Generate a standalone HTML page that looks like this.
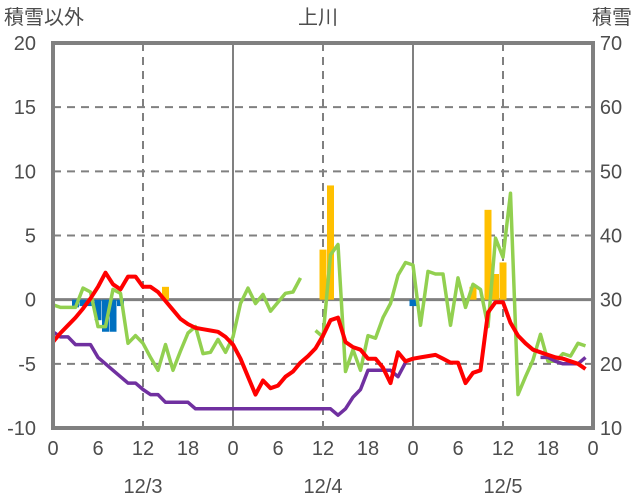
<!DOCTYPE html>
<html><head><meta charset="utf-8"><style>
body{margin:0;background:#fff;}
svg{display:block;font-family:"Liberation Sans","Noto Sans CJK JP",sans-serif;}
</style></head><body>
<svg id="chart" width="636" height="501"></svg>
<script>
const hours = Array.from({length:72},(_,i)=>i);
const xTickLabels = ["0","6","12","18","0","6","12","18","0","6","12","18","0"];
const dateLabels = ["12/3","12/4","12/5"];
const leftTicks = [20,15,10,5,0,-5,-10];
const rightTicks = [70,60,50,40,30,20,10];
const redTemp = [-3.3,-2.6,-2.0,-1.4,-0.7,0.1,1.0,2.1,1.2,0.8,1.8,1.8,1.0,1.0,0.6,-0.1,-0.8,-1.5,-1.9,-2.2,-2.3,-2.4,-2.5,-2.9,
-3.5,-4.6,-6.0,-7.4,-6.3,-6.9,-6.7,-6.0,-5.6,-4.9,-4.4,-3.8,-2.8,-1.6,-1.4,-3.3,-3.7,-3.9,-4.6,-4.6,-5.3,-6.5,-4.1,-4.8,
-4.6,-4.5,-4.4,-4.3,-4.6,-4.9,-4.9,-6.5,-5.7,-5.5,-1.0,-0.2,-0.2,-1.8,-2.8,-3.4,-3.9,-4.1,-4.3,-4.5,-4.6,-4.8,-5.0,-5.4];
const greenSeries = [-0.4,-0.6,-0.6,-0.6,0.9,0.6,-2.1,-2.1,0.8,0.5,-3.4,-2.8,-3.4,-4.5,-5.5,-3.5,-5.5,-4.0,-2.6,-2.1,-4.2,-4.1,-3.1,-4.1,
-2.9,-0.3,0.9,-0.3,0.4,-0.9,-0.2,0.5,0.6,1.7,null,-2.4,-2.9,3.5,4.3,-5.6,-3.9,-5.5,-2.8,-3.0,-1.4,-0.3,1.9,2.9,
2.7,-2.0,2.2,2.0,2.0,-2.0,1.7,-0.6,1.2,0.8,-2.1,4.8,3.3,8.3,-7.4,-6.0,-4.7,-2.7,-4.8,-4.8,-4.2,-4.4,-3.4,-3.6];
const purpleSnow = [-2.5,-2.9,-2.9,-3.5,-3.5,-3.5,-4.5,-5.0,-5.5,-6.0,-6.5,-6.5,-7.0,-7.4,-7.4,-8.0,-8.0,-8.0,-8.0,-8.5,-8.5,-8.5,-8.5,-8.5,
-8.5,-8.5,-8.5,-8.5,-8.5,-8.5,-8.5,-8.5,-8.5,-8.5,-8.5,-8.5,-8.5,-8.5,-9.0,-8.5,-7.6,-7.0,-5.5,-5.5,-5.5,-5.5,-6.0,-4.9,
null,null,null,null,null,null,null,null,null,null,null,null,null,null,null,null,null,-4.5,-4.5,-4.8,-5.0,-5.0,-5.0,-4.5];
const barHours = [3,4,5,6,7,8,9,15,36,37,48,56,58,59,60];
const barValues = [-0.6,-0.5,-0.5,-1.6,-2.5,-2.5,-0.5,1.0,3.9,8.9,-0.5,1.0,7.0,2.0,2.9];

const svg=document.getElementById('chart');
const NS='http://www.w3.org/2000/svg';
const X0=53,X1=593,YT=43,YB=428;
const xs=h=>X0+h*7.5;
const ys=v=>YT+(20-v)*(YB-YT)/30;
function mk(tag,attrs,parent){const e=document.createElementNS(NS,tag);for(const k in attrs)e.setAttribute(k,attrs[k]);(parent||svg).appendChild(e);return e;}
const grid=mk('g',{});


[15,10,5,-5].forEach(v=>{const l=mk('line',{x1:X0,x2:X1,y1:ys(v),y2:ys(v),stroke:'#808080','stroke-width':2,'stroke-dasharray':'8,6'},grid);

});
[12,36,60].forEach(h=>{const l=mk('line',{x1:xs(h),x2:xs(h),y1:YT,y2:YB,stroke:'#808080','stroke-width':2,'stroke-dasharray':'8,6'},grid);

});
[24,48].forEach(h=>{const l=mk('line',{x1:xs(h),x2:xs(h),y1:YT,y2:YB,stroke:'#808080','stroke-width':2},grid);

});
const zl=mk('line',{x1:X0,x2:X1,y1:ys(0),y2:ys(0),stroke:'#808080','stroke-width':3});


barHours.forEach((h,i)=>{const v=barValues[i];const y0=ys(0),y1=ys(v);
const r=mk('rect',{x:xs(h)-3.5,y:Math.min(y0,y1),width:7,height:Math.abs(y1-y0),fill:v>=0?'#ffc000':'#0070c0'});

});
function line(data,color,name){let d='',pen=false;data.forEach((v,i)=>{if(v===null){pen=false;return;}d+=(pen?'L':'M')+xs(hours[i]).toFixed(1)+','+ys(v).toFixed(1);pen=true;});
const p=mk('path',{d:d,fill:'none',stroke:color,'stroke-width':name==='temperature-line'?4:3.5,'stroke-linejoin':'round'});

}
line(greenSeries,'#92d050','green-series-line');
line(purpleSnow,'#7030a0','snow-depth-line');
line(redTemp,'#ff0000','temperature-line');
const fr=mk('rect',{x:X0,y:YT,width:X1-X0,height:YB-YT,fill:'none',stroke:'#808080','stroke-width':4});


function txt(s,x,y,anchor,name,size){const t=mk('text',{x:x,y:y,'text-anchor':anchor,'font-size':size||20,fill:'#4d4d4d'});t.textContent=s;

return t;}
leftTicks.forEach(v=>txt(String(v),36,ys(v)+7,'end','left-tick-label'));
rightTicks.forEach(v=>txt(String(v),611,ys((v-30)/2)+7,'middle','right-tick-label'));
xTickLabels.forEach((s,i)=>txt(s,xs(i*6),455,'middle','x-tick-label'));
dateLabels.forEach((s,i)=>txt(s,xs(12+i*24),493,'middle','date-label'));
txt('積雪以外',4,24,'start','left-axis-title');
txt('上川',318,24,'middle','chart-title');
txt('積雪',632,24,'end','right-axis-title');
</script>
</body></html>
